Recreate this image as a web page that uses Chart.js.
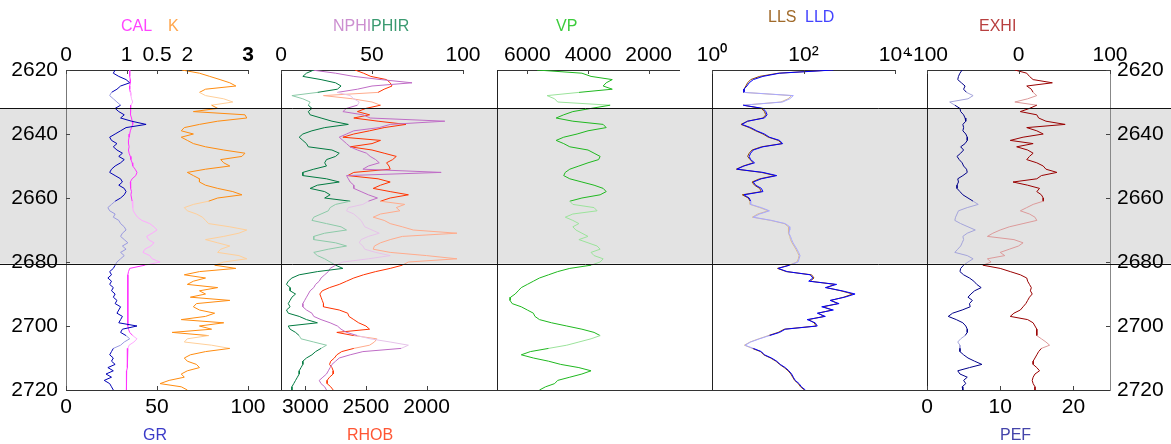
<!DOCTYPE html>
<html><head><meta charset="utf-8">
<script src="https://cdn.jsdelivr.net/npm/chart.js@4.4.1/dist/chart.umd.min.js"></script>
<style>
html,body{margin:0;padding:0;background:#fff;}
#wrap{position:relative;width:1171px;height:444px;overflow:hidden;font-family:"Liberation Sans",Arial,Helvetica,sans-serif;}
#wrap canvas{position:absolute;left:0;top:0;}
.t{position:absolute;font-size:16px;white-space:nowrap;transform:translateY(-50%);line-height:1;}
</style></head><body>
<div id="wrap">
<canvas id="c1" width="1171" height="444"></canvas>
<canvas id="c2" width="1171" height="444"></canvas>
<canvas id="c3" width="1171" height="444"></canvas>
<canvas id="c4" width="1171" height="444"></canvas>
<canvas id="c5" width="1171" height="444"></canvas>
<div class="t" style="left:121px;top:26px;color:#ff44ff">CAL</div>
<div class="t" style="left:168px;top:26px;color:#ffa64d">K</div>
<div class="t" style="left:333px;top:26px;color:#cc8fd0">NPHI</div>
<div class="t" style="left:371px;top:26px;color:#3a9a70">PHIR</div>
<div class="t" style="left:556px;top:26px;color:#3ccc3c">VP</div>
<div class="t" style="left:768px;top:17px;color:#a06a2a">LLS</div>
<div class="t" style="left:805px;top:17px;color:#4444ff">LLD</div>
<div class="t" style="left:979px;top:26px;color:#b84040">EXHI</div>
<div class="t" style="left:143px;top:435px;color:#3a3ac8">GR</div>
<div class="t" style="left:347px;top:435px;color:#ff5533">RHOB</div>
<div class="t" style="left:1000px;top:435px;color:#4444aa">PEF</div>
</div>
<script>
// ---------------- data ----------------
const depth = [2620,2621,2622,2623,2624,2625,2626,2627,2628,2629,
2630,2631,2632,2633,2634,2635,2636,2637,2638,2639,
2640,2641,2642,2643,2644,2645,2646,2647,2648,2649,
2650,2651,2652,2653,2654,2655,2656,2657,2658,2659,
2660,2661,2662,2663,2664,2665,2666,2667,2668,2669,
2670,2671,2672,2673,2674,2675,2676,2677,2678,2679,
2680,2681,2682,2683,2684,2685,2686,2687,2688,2689,
2690,2691,2692,2693,2694,2695,2696,2697,2698,2699,
2700,2701,2702,2703,2704,2705,2706,2707,2708,2709,
2710,2711,2712,2713,2714,2715,2716,2717,2718,2719,
2720];

const GR = [27,26,29,33,35,30,28,25,24,26,
28,30,27,29,32,30,36,44,33,30,
27,24,25,28,26,28,31,29,32,30,
27,25,24,27,30,31,29,32,33,32,
30,27,25,23,24,27,26,29,30,32,
33,31,30,32,34,31,33,30,32,30,
28,27,26,24,25,23,25,24,26,25,
27,26,28,27,30,29,28,31,30,29,
39,31,30,33,35,32,30,26,25,24,
26,25,27,23,26,22,25,21,24,25,
26];

const CAL = [1.05,1.05,1.05,1.06,1.06,1.05,1.05,1.06,1.07,1.08,
1.1,1.07,1.06,1.06,1.07,1.08,1.09,1.1,1.08,1.06,
1.05,1.04,1.03,1.03,1.04,1.03,1.04,1.06,1.07,1.09,
1.1,1.14,1.17,1.15,1.09,1.06,1.06,1.07,1.08,1.07,
1.08,1.09,1.1,1.1,1.11,1.14,1.18,1.25,1.38,1.45,
1.5,1.42,1.33,1.36,1.45,1.4,1.3,1.27,1.38,1.42,
1.55,1.3,1.05,1.03,1.02,1.02,1.02,1.01,1.02,1.02,
1.02,1.02,1.01,1.02,1.02,1.02,1.02,1.02,1.02,1.02,
1.02,1.03,1.05,1.1,1.17,1.12,1.04,1.02,1.02,1.01,
1.01,1.01,1.01,1.01,1.0,1.0,1.0,1.0,1.0,0.99,
0.99];

const K = [1.91,2.2,2.37,2.54,2.7,2.8,2.3,2.2,2.3,2.6,
2.75,2.4,2.5,2.1,2.95,2.98,2.5,2.2,1.95,1.9,
2.1,1.9,2.0,2.1,2.3,2.6,2.95,2.9,2.55,2.6,
2.7,2.3,2.0,2.1,2.2,2.2,2.3,2.5,2.75,2.9,
2.5,2.35,2.1,1.95,2.0,2.15,2.25,2.3,2.35,2.7,
2.98,2.85,2.6,2.3,2.5,2.7,2.55,2.5,2.85,2.98,
2.6,2.45,2.8,2.2,1.95,2.3,2.1,2.0,2.5,2.2,
2.3,2.05,2.7,2.15,2.1,2.2,2.45,2.3,1.9,2.6,
2.2,2.4,1.75,2.35,2.0,1.95,2.4,2.7,2.3,2.05,
1.95,2.0,2.15,2.2,2.0,1.9,1.95,1.7,1.55,1.9,
2.0];

const PHIR = [18,14,12,22,30,33,31,20,6,12,
16,15,17,15,16,22,28,37,24,17,
12,10,12,14,15,28,32,30,25,24,
25,18,12,12,25,32,20,16,24,27,
24,38,30,27,26,22,18,17,25,33,
36,24,18,18,30,36,26,18,20,24,
27,30,34,20,10,6,4,3,5,5,
8,6,5,4,5,3,4,10,14,20,
4,5,8,10,11,18,25,22,19,17,
14,12,12,11,10,10,9,8,7,6,
6];

const NPHI = [17,30,40,55,72,50,42,31,38,40,
43,42,36,34,45,49,90,60,54,40,
36,32,34,36,38,42,47,49,52,54,
48,45,88,36,37,38,40,40,44,48,
53,48,45,37,36,40,42,44,45,46,
50,54,48,44,43,45,46,52,60,48,
34,30,27,26,24,22,21,19,18,16,
15,14,13,12,12,14,17,18,22,27,
31,33,36,42,49,60,70,66,45,38,
32,30,28,27,26,25,23,21,22,24,
25];

const RHOB = [2590,2520,2460,2330,2300,2285,2350,2400,2850,2610,
2450,2380,2500,2570,2470,2600,2400,2170,2350,2470,
2600,2690,2380,2450,2630,2450,2350,2250,2280,2330,
2310,2300,2600,2650,2400,2300,2380,2440,2300,2150,
2300,2380,2180,2250,2220,2380,2440,2350,2300,2200,
2110,1750,2200,2300,2380,2430,2440,2300,2000,1750,
2150,2200,2300,2420,2520,2600,2660,2720,2800,2860,
2880,2870,2860,2850,2850,2720,2650,2640,2600,2560,
2500,2470,2740,2600,2410,2430,2470,2600,2700,2740,
2760,2790,2800,2780,2770,2770,2800,2820,2820,2790,
2770];

const VP = [5680,4200,3900,3200,3400,3500,3200,4300,5350,5100,
5000,3270,3900,4500,4800,5050,4500,3500,3400,4000,
4360,4800,5050,4800,4600,4000,3800,3600,3650,4000,
4300,4600,4750,4800,4600,4200,3800,3500,3400,3600,
4200,4600,4500,3800,3700,4500,4750,4500,4300,4500,
4400,4200,4000,4300,4000,3700,3600,3900,3800,3500,
3600,3900,4600,5000,5300,5600,5800,6000,6200,6300,
6400,6550,6570,6500,6200,6000,5800,5750,5600,5200,
4700,4200,3800,3600,3900,4300,4700,5300,5900,6200,
5800,5300,4900,4300,3900,4200,4600,5000,5100,5400,
5600];

const LLD = [450,30,13,8,6.5,5.8,5,5,60,50,
35,4.8,13,15,16,14,6,4.5,7,9.5,
14,18,30,35,13,8,7,6.5,7,8.5,
5,3.5,13,26,12,8,9,12,13,5,
6.5,7,7,12,18,11,8,20,40,50,
50,48,52,55,59,65,72,78,84,80,
76,50,28,44,140,160,130,530,300,700,
1340,800,380,600,250,450,200,300,120,180,
200,40,30,18,11,7,5.3,8,12,14,
20,26,31,40,48,55,60,66,80,90,
110];

const LLS = [420,28,11,7,6,5.5,5,5,55,46,
32,4.8,12,14,15,13,6,4.3,6.5,9,
13,17,28,34,12,7.5,6.5,6,6.8,8,
4.8,3.4,12,24,11,7.5,8.5,11,12,4.6,
6.2,6.8,6.8,11,17,10,7.6,19,38,47,
48,46,50,52,56,62,68,74,80,77,
72,48,27,42,150,170,140,480,320,650,
1200,750,400,560,270,420,210,280,130,170,
190,38,28,17,10.5,6.8,5.1,7.6,11.5,13.5,
19,25,30,38,46,53,58,64,77,86,
105];

const PEF = [4.8,4.5,4.3,4.2,4.7,5.2,5.0,5.4,6.3,5.6,
3.1,3.8,4.5,4.6,5.0,5.2,5.3,4.9,5.0,4.9,
5.3,5.5,5.5,5.2,4.6,5.0,4.6,4.1,4.4,4.8,
5.0,5.4,5.5,4.9,4.2,4.3,4.1,4.1,4.5,4.9,
5.6,6.3,7.0,5.5,4.3,4.1,3.9,3.8,4.6,5.6,
6.6,5.5,4.9,5.0,4.8,4.6,4.2,3.8,5.5,6.3,
5.6,5.0,4.6,4.5,5.0,5.8,6.4,6.8,7.4,6.5,
6.0,5.6,6.2,5.8,5.9,4.8,3.5,2.9,4.0,4.9,
5.3,5.5,5.5,5.2,4.6,4.2,4.5,4.5,4.5,5.0,
5.6,6.5,7.5,5.8,4.2,4.5,5.5,5.0,5.3,4.8,
4.9];

const EXHI = [-4,9,12,16,37,9,14,16,20,10,
-4,20,12,2,20,22,30,51,9,20,
27,5,-9,16,-2,10,16,12,9,20,
27,30,42,25,20,-6,10,23,20,25,
27,27,16,9,2,12,18,20,5,-10,
-20,-28,-34,-5,5,0,-10,-20,-15,-34,
-30,-39,-20,-9,2,9,10,12,14,13,
15,12,10,8,5,2,-5,-9,10,16,
18,20,20,20,25,30,34,25,22,20,
18,16,16,20,23,18,16,15,16,18,
18];

// shaded interval and faded (uncertain) intervals, in depth
const shadedInterval = [2632, 2680.5];
const fadedRanges = [[2627.5, 2631], [2661, 2681], [2703, 2707]];

// tick values and labels
const depthTicks = [2620, 2640, 2660, 2680, 2700, 2720];
const calKTickValues = [0, 1, 1.5, 2, 3];
const calKTickLabels = ['0', '1', '0.5', '2', '3'];
const grTicks = [0, 50, 100];
const porTicks = [0, 50, 100];
const rhobTicks = [3000, 2500, 2000];
const vpTicks = [6000, 4000, 2000];
const resTickValues = [1, 100, 10000];
const resTickLabels = ['10\u2070', '10\u00b2', '10\u2074'];
const exhiTicks = [-100, 0, 100];
const pefTicks = [0, 10, 20];

// ---------------- helpers ----------------
const FAM = '"Liberation Sans", Arial, Helvetica, sans-serif';
const FS = 21;
Chart.defaults.font.family = FAM;
Chart.defaults.color = '#000';
const TOP_H = 70, BOT_H = 54, W = 1171;
const plain = v => String(v);

function fadedSeg(faded) {
  return { borderColor: c => {
    const m = (c.p0.parsed.y + c.p1.parsed.y) / 2;
    return fadedRanges.some(r => m >= r[0] && m <= r[1]) ? faded : undefined;
  } };
}
function ds(label, vals, xAxisID, color, faded) {
  return { label, data: depth.map((d, i) => ({ x: vals[i], y: d })), xAxisID, yAxisID: 'y',
    showLine: true, borderColor: color, backgroundColor: color, borderWidth: 1,
    pointRadius: 0, pointHoverRadius: 0, fill: false, tension: 0, segment: fadedSeg(faded) };
}
function setTicks(values) { return s => { s.ticks = values.map(v => ({ value: v })); }; }
function xAxis(pos, extra) {
  const base = {
    type: 'linear', position: pos,
    grid: { display: false, drawTicks: false },
    border: { display: true, color: '#333', width: 1 },
    ticks: { font: { family: FAM, size: FS }, color: '#000', padding: pos === 'top' ? 2 : 5,
      autoSkip: false, maxRotation: 0, minRotation: 0, callback: plain },
    afterFit: s => { s.height = pos === 'top' ? TOP_H : BOT_H; s.paddingLeft = 0; s.paddingRight = 0; }
  };
  const o = Object.assign({}, base, extra);
  if (extra && extra.ticks) o.ticks = Object.assign({}, base.ticks, extra.ticks);
  return o;
}
function yAxis(width, showLabels, color) {
  return {
    type: 'linear', position: 'left', min: 2620, max: 2720, reverse: true,
    grid: { display: false, drawTicks: false },
    border: { display: true, color: color, width: 1 },
    afterBuildTicks: setTicks(depthTicks),
    ticks: { display: showLabels, font: { family: FAM, size: FS }, color: '#000', padding: 8, autoSkip: false, callback: plain },
    afterFit: s => { s.width = width; s.paddingTop = 0; s.paddingBottom = 0; }
  };
}
function blankBottom() {
  return xAxis('bottom', { min: 0, max: 1, ticks: { display: false } });
}

const inTicksPlugin = {
  id: 'inTicks',
  afterDraw(chart, args, opts) {
    const ids = (opts && opts.axes) || [];
    const ctx = chart.ctx, ca = chart.chartArea;
    ctx.save(); ctx.strokeStyle = '#444'; ctx.lineWidth = 1;
    ids.forEach(id => {
      const s = chart.scales[id]; if (!s) return;
      s.ticks.forEach(t => {
        const p = Math.round(s.getPixelForValue(t.value)) + 0.5;
        ctx.beginPath();
        if (s.isHorizontal()) {
          const y0 = s.position === 'top' ? ca.top : ca.bottom;
          const d = s.position === 'top' ? 4 : -4;
          ctx.moveTo(p, y0); ctx.lineTo(p, y0 + d);
        } else {
          const x0 = s.position === 'left' ? ca.left : ca.right;
          const d = s.position === 'left' ? 4 : -4;
          ctx.moveTo(x0, p); ctx.lineTo(x0 + d, p);
        }
        ctx.stroke();
      });
    });
    ctx.restore();
  }
};
Chart.register(inTicksPlugin);

const charts = [];
function baseOptions(rightPad, scales, tickAxes) {
  return {
    responsive: false, animation: false, events: [],
    layout: { padding: { left: 0, top: 0, bottom: 0, right: rightPad } },
    plugins: { legend: { display: false }, tooltip: { enabled: false }, inTicks: { axes: tickAxes } },
    scales
  };
}

// band fill drawn on the bottom-most canvas
const bandPlugin = {
  id: 'band',
  beforeDraw(chart) {
    const y = chart.scales.y, ctx = chart.ctx;
    const a = y.getPixelForValue(shadedInterval[0]), b = y.getPixelForValue(shadedInterval[1]);
    ctx.save(); ctx.fillStyle = '#e3e3e3'; ctx.fillRect(0, a, chart.width, b - a); ctx.restore();
  }
};
// band edge lines and continuous bottom line on the top-most canvas
const edgePlugin = {
  id: 'edges',
  afterDraw(chart) {
    const y = chart.scales.y, ctx = chart.ctx;
    ctx.save(); ctx.strokeStyle = '#111'; ctx.lineWidth = 1;
    shadedInterval.forEach(v => {
      const p = Math.round(y.getPixelForValue(v)) + 0.5;
      ctx.beginPath(); ctx.moveTo(0, p); ctx.lineTo(chart.width, p); ctx.stroke();
    });
    const first = charts[0];
    const pb = Math.round(chart.chartArea.bottom) + 0.5;
    ctx.strokeStyle = '#333';
    ctx.beginPath(); ctx.moveTo(first.chartArea.left, pb); ctx.lineTo(chart.chartArea.right, pb); ctx.stroke();
    ctx.restore();
  }
};

// ---------------- panel 1: GR / CAL / K ----------------
charts.push(new Chart(document.getElementById('c1'), {
  type: 'scatter',
  data: { datasets: [
    ds('GR', GR, 'xb', '#0000b4', '#9a9ae0'),
    ds('CAL', CAL, 'xt', '#ff33ff', '#ffaaff'),
    ds('K', K, 'xt', '#ff8c10', '#ffcf99')
  ] },
  options: baseOptions(W - 248, {
    xt: xAxis('top', { min: 0, max: 3, afterBuildTicks: setTicks(calKTickValues),
      ticks: { callback: v => calKTickLabels[calKTickValues.indexOf(v)],
        font: c => ({ family: FAM, size: FS, weight: (c.tick && c.tick.value === 3) ? 'bold' : 'normal' }) } }),
    xb: xAxis('bottom', { min: 0, max: 100, afterBuildTicks: setTicks(grTicks) }),
    y: yAxis(66, true, '#777')
  }, ['xt', 'xb', 'y']),
  plugins: [bandPlugin]
}));

// ---------------- panel 2: NPHI / PHIR / RHOB ----------------
charts.push(new Chart(document.getElementById('c2'), {
  type: 'scatter',
  data: { datasets: [
    ds('PHIR', PHIR, 'xt', '#007a40', '#8ccaa8'),
    ds('NPHI', NPHI, 'xt', '#bf6cc6', '#e6c3ea'),
    ds('RHOB', RHOB, 'xb', '#ff3300', '#ffab8c')
  ] },
  options: baseOptions(W - 463, {
    xt: xAxis('top', { min: 0, max: 100, afterBuildTicks: setTicks(porTicks) }),
    xb: xAxis('bottom', { min: 1700, max: 3200, reverse: true, afterBuildTicks: setTicks(rhobTicks) }),
    y: yAxis(281, false, '#222')
  }, ['xt', 'xb'])
}));

// ---------------- panel 3: VP ----------------
charts.push(new Chart(document.getElementById('c3'), {
  type: 'scatter',
  data: { datasets: [ ds('VP', VP, 'xt', '#1fb81f', '#9be39b') ] },
  options: baseOptions(W - 679, {
    xt: xAxis('top', { min: 1000, max: 7000, reverse: true, afterBuildTicks: setTicks(vpTicks) }),
    xb: blankBottom(),
    y: yAxis(497, false, '#222')
  }, ['xt'])
}));

// ---------------- panel 4: LLS / LLD ----------------
charts.push(new Chart(document.getElementById('c4'), {
  type: 'scatter',
  data: { datasets: [
    ds('LLD', LLD, 'xt', '#0000ff', '#a8a8ff'),
    ds('LLS', LLS, 'xt', '#8b4500', '#d9bb94')
  ] },
  options: baseOptions(W - 895, {
    xt: xAxis('top', { type: 'logarithmic', min: 1, max: 10000, afterBuildTicks: setTicks(resTickValues),
      ticks: { callback: v => resTickLabels[resTickValues.indexOf(v)] } }),
    xb: blankBottom(),
    y: yAxis(712, false, '#222')
  }, ['xt'])
}));

// ---------------- panel 5: EXHI / PEF ----------------
const y2 = yAxis(61, true, '#888');
y2.position = 'right';
y2.ticks = Object.assign({}, y2.ticks, { padding: 7 });
charts.push(new Chart(document.getElementById('c5'), {
  type: 'scatter',
  data: { datasets: [
    ds('EXHI', EXHI, 'xt', '#990000', '#dc9a9a'),
    ds('PEF', PEF, 'xb', '#000088', '#a4a4da')
  ] },
  options: baseOptions(0, {
    xt: xAxis('top', { min: -100, max: 100, afterBuildTicks: setTicks(exhiTicks) }),
    xb: xAxis('bottom', { min: 0, max: 25, afterBuildTicks: setTicks(pefTicks) }),
    y: yAxis(927, false, '#222'),
    y2: y2
  }, ['xt', 'xb', 'y2']),
  plugins: [edgePlugin]
}));
</script>
</body></html>
